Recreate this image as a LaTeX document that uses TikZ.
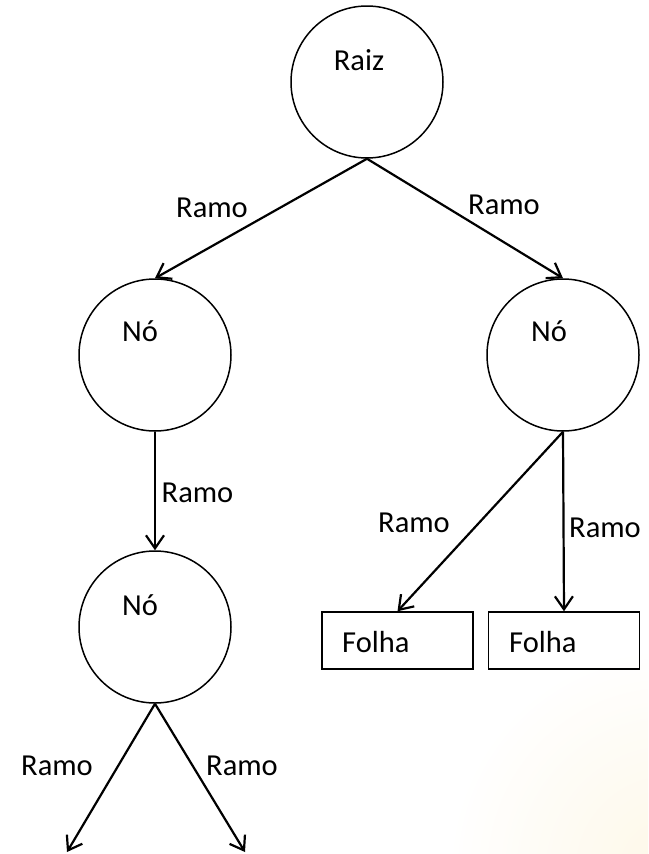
\documentclass[tikz,border=0pt]{standalone}
\usepackage{fontspec}
\setmainfont{Carlito}
\usetikzlibrary{arrows.meta,calc}
\begin{document}
\begin{tikzpicture}[x=1pt,y=-1pt,
  circ/.style={draw,circle,line width=1.5pt,minimum size=152pt,inner sep=0pt},
  leaf/.style={draw,rectangle,line width=1.5pt,minimum width=151pt,minimum height=57pt,inner sep=0pt},
  txt/.style={font=\fontsize{30.5}{36}\selectfont,inner sep=0pt,anchor=base},
  ltxt/.style={font=\fontsize{30.5}{36}\selectfont,inner sep=0pt,anchor=base west},
  branch/.style={line width=2.2pt,-{Straight Barb[length=13pt,width=18pt,line width=2.2pt]}}]
\useasboundingbox (0,0) rectangle (648,854);
\fill[white] (0,0) rectangle (648,854);
\begin{scope}
\clip (0,0) rectangle (648,854);
\shade[inner color={rgb,255:red,253;green,240;blue,205},outer color=white,opacity=0.45] (670,870) circle (220);
\end{scope}
% nodes
\node[circ] (raiz) at (367,82) {};
\node[circ] (noL) at (155,355) {};
\node[circ] (noR) at (563,355) {};
\node[circ] (noB) at (155,627) {};
\node[leaf] (f1) at (397.5,640.5) {};
\node[leaf] (f2) at (564,640.5) {};
\coordinate (eL) at (67,852);
\coordinate (eR) at (245,852);
% texts
\node[txt] (traiz) at (359,70) {Raiz};
\node[txt] (tnoL) at (140,341) {Nó};
\node[txt] (tnoR) at (549,341) {Nó};
\node[txt] (tnoB) at (140,615) {Nó};
\node[ltxt] (tf1) at (342,652) {Folha};
\node[ltxt] (tf2) at (509,652) {Folha};
% connectors
\draw[branch] (raiz.south) -- (noL.north);
\draw[branch] (raiz.south) -- (noR.north);
\draw[branch] (noL.south) -- (noB.north);
\draw[branch] (noR.south) -- (f1.north);
\draw[branch] (noR.south) -- (f2.north);
\draw[branch] (noB.south) -- (eL);
\draw[branch] (noB.south) -- (eR);
% branch labels
\node[txt] (r1) at (212,217) {Ramo};
\node[txt] (r2) at (504,214) {Ramo};
\node[txt] (r3) at (197.5,502) {Ramo};
\node[txt] (r4) at (414,532) {Ramo};
\node[txt] (r5) at (605,537) {Ramo};
\node[txt] (r6) at (57,775) {Ramo};
\node[txt] (r7) at (242,775) {Ramo};
\end{tikzpicture}
\end{document}
